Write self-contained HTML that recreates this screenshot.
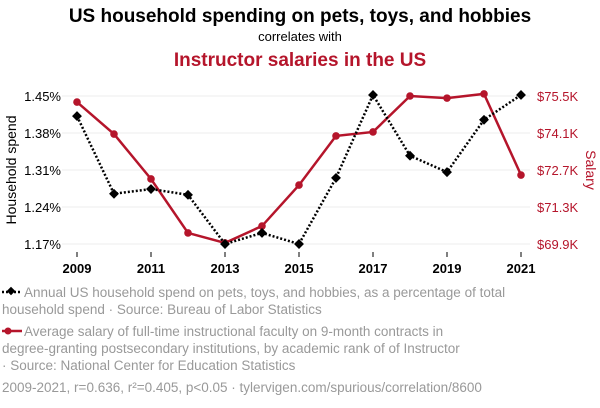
<!DOCTYPE html>
<html><head><meta charset="utf-8"><style>
body{margin:0;background:#fff;font-family:"Liberation Sans",sans-serif;}
#c{position:relative;width:600px;height:408px;overflow:hidden;}
</style></head><body>
<div id="c">
<svg width="600" height="408" font-family="Liberation Sans, sans-serif" id="svg">
<text x="300" y="22" text-anchor="middle" font-size="19" font-weight="bold" fill="#000">US household spending on pets, toys, and hobbies</text>
<text x="300" y="41" text-anchor="middle" font-size="13" fill="#000">correlates with</text>
<text x="300" y="66" text-anchor="middle" font-size="19" font-weight="bold" fill="#b5152b">Instructor salaries in the US</text>
<g id="grid"></g><g id="axes"></g><g id="series"></g>
<text transform="translate(16,170) rotate(-90)" text-anchor="middle" font-size="14" fill="#000">Household spend</text>
<text transform="translate(586,170) rotate(90)" text-anchor="middle" font-size="14" fill="#b5152b">Salary</text>
<g>
<line x1="2" y1="292" x2="22" y2="292" stroke="#000" stroke-width="2.5" stroke-dasharray="2,2"/>
<rect x="8" y="288" width="6" height="6" transform="rotate(45 11 291)" fill="#000"/>
<text font-size="13.5" fill="#999"><tspan x="24" y="297">Annual US household spend on pets, toys, and hobbies, as a percentage of total</tspan><tspan x="2" y="314">household spend · Source: Bureau of Labor Statistics</tspan></text>
</g>
<g>
<line x1="2" y1="331" x2="22" y2="331" stroke="#b5152b" stroke-width="2.5"/>
<circle cx="8" cy="331" r="3.5" fill="#b5152b"/>
<text font-size="13.5" fill="#999"><tspan x="24" y="336">Average salary of full-time instructional faculty on 9-month contracts in</tspan><tspan x="2" y="353">degree-granting postsecondary institutions, by academic rank of of Instructor</tspan><tspan x="2" y="370">· Source: National Center for Education Statistics</tspan></text>
</g>
<text x="2" y="392" font-size="13.5" fill="#999">2009-2021, r=0.636, r²=0.405, p&lt;0.05 · tylervigen.com/spurious/correlation/8600</text>
</svg></div>
<script>
const years=[2009,2010,2011,2012,2013,2014,2015,2016,2017,2018,2019,2020,2021];
const spend=[1.412,1.265,1.274,1.263,1.170,1.191,1.170,1.295,1.452,1.337,1.306,1.405,1.452];
const salary=[75.27,74.06,72.36,70.32,69.94,70.58,72.13,73.99,74.14,75.50,75.42,75.58,72.51];
const leftTicks=[1.17,1.24,1.31,1.38,1.45];
const leftLabels=["1.17%","1.24%","1.31%","1.38%","1.45%"];
const rightTicks=[69.9,71.3,72.7,74.1,75.5];
const rightLabels=["$69.9K","$71.3K","$72.7K","$74.1K","$75.5K"];
const xTicks=[2009,2011,2013,2015,2017,2019,2021];
const NS="http://www.w3.org/2000/svg";
const X0=77,X1=521,YT=96,YB=244;
const x=v=>X0+(v-2009)/(2021-2009)*(X1-X0);
const yl=v=>YB-(v-1.17)/(1.45-1.17)*(YB-YT);
const yr=v=>YB-(v-69.9)/(75.5-69.9)*(YB-YT);
function mk(t,a,p){const e=document.createElementNS(NS,t);for(const k in a)e.setAttribute(k,a[k]);p.appendChild(e);return e;}
const grid=document.getElementById('grid'),axes=document.getElementById('axes'),ser=document.getElementById('series');
leftTicks.forEach((v,i)=>{
 const g=mk('line',{x1:62,x2:530,y1:yl(v),y2:yl(v),stroke:'#eee','stroke-width':1},grid);
 
 
 const t=mk('text',{x:61,y:yl(v)+5,'text-anchor':'end','font-size':13,fill:'#000'},axes);t.textContent=leftLabels[i];
 
 
});
rightTicks.forEach((v,i)=>{
 const t=mk('text',{x:537,y:yr(v)+5,'font-size':13,fill:'#b5152b'},axes);t.textContent=rightLabels[i];
 
 
});
xTicks.forEach(v=>{
 const t=mk('text',{x:x(v),y:273,'text-anchor':'middle','font-size':13,'font-weight':'bold',fill:'#000'},axes);t.textContent=v;
 
 
 mk('line',{x1:x(v),x2:x(v),y1:252,y2:257,stroke:'#000'},axes);
});
const rl=mk('polyline',{points:years.map((yv,i)=>x(yv)+','+yr(salary[i])).join(' '),fill:'none',stroke:'#b5152b','stroke-width':2.5},ser);


years.forEach((yv,i)=>{
 const c=mk('circle',{cx:x(yv),cy:yr(salary[i]),r:3.8,fill:'#b5152b'},ser);
 
 
});
const bl=mk('polyline',{points:years.map((yv,i)=>x(yv)+','+yl(spend[i])).join(' '),fill:'none',stroke:'#000','stroke-width':2.5,'stroke-dasharray':'2,2'},ser);


years.forEach((yv,i)=>{
 const px=x(yv),py=yl(spend[i]);
 const d=mk('rect',{x:px-3.5,y:py-3.5,width:7,height:7,fill:'#000',transform:`rotate(45 ${px} ${py})`},ser);
 
 
});
</script>
</body></html>
